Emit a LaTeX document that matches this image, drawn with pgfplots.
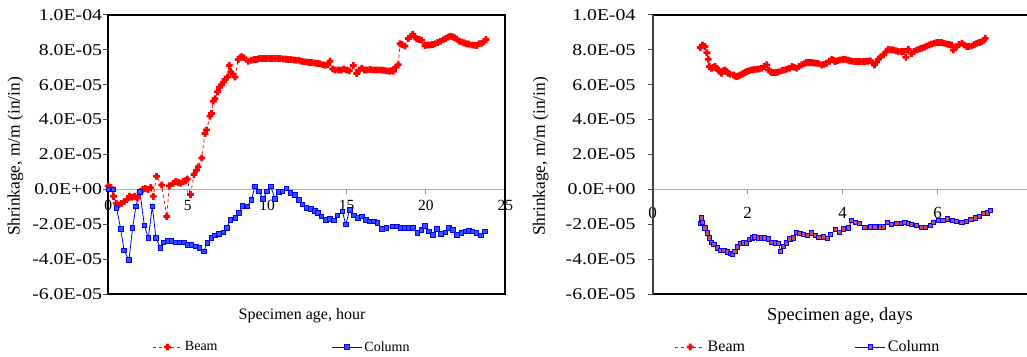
\documentclass[border=0pt]{standalone}
\usepackage{fontspec}
\setmainfont{Liberation Serif}
\usepackage{graphicx}
\usepackage{pgfplots}
\pgfplotsset{compat=1.18}
\newcommand\yl[1]{\scalebox{1.2}[1]{#1}}
\definecolor{sqfillR}{RGB}{190,80,110}
\definecolor{sqfillL}{RGB}{50,80,255}
\pgfdeclareplotmark{fatplus}{%
  \pgfpathrectangle{\pgfpoint{-\pgfplotmarksize}{-0.4\pgfplotmarksize}}{\pgfpoint{2\pgfplotmarksize}{0.8\pgfplotmarksize}}%
  \pgfpathrectangle{\pgfpoint{-0.4\pgfplotmarksize}{-\pgfplotmarksize}}{\pgfpoint{0.8\pgfplotmarksize}{2\pgfplotmarksize}}%
  \pgfusepathqfill}
\begin{document}
\begin{tikzpicture}
\pgfplotsset{
  shr/.style={
    scale only axis, anchor=south west, height=279pt,
    ymin=-6, ymax=10, ytick={-6,-4,...,10},
    yticklabels={\yl{-6.0E-05},\yl{-4.0E-05},\yl{-2.0E-05},\yl{0.0E+00},\yl{2.0E-05},\yl{4.0E-05},\yl{6.0E-05},\yl{8.0E-05},\yl{1.0E-04}},
    axis x line*=middle, axis y line*=left,
    hide obscured x ticks=false,
    clip=false,
    x axis line style={color=black!30, line width=1.3pt},
    y axis line style={draw=none},
    xtick align=outside, ytick align=outside,
    major tick length=5pt,
    xtick style={color=black!40, line width=1pt},
    ytick style={color=black!70, line width=1pt},
    yticklabel style={font=\fontsize{16.5}{18}\selectfont, inner sep=1pt},
    legend columns=2, legend cell align=left,
    legend image code/.code={\draw[mark repeat=2,mark phase=2,##1] plot coordinates {(0pt,0pt)(15pt,0pt)(30pt,0pt)};},
    beam/.style={red, dashed, line width=0.8pt, mark=fatplus, mark size=3.4pt, mark options={solid, fill=red}},
  }
}
% ---------- left: hours ----------
\begin{axis}[shr, at={(108.3pt,62pt)}, width=397pt,
  xmin=0, xmax=25, xtick={0,5,10,15,20,25}, xticklabels={0,5,10,15,20,25},
  xticklabel style={font=\fontsize{15.5}{17}\selectfont, inner sep=1pt, yshift=-5pt},
  xlabel={Specimen age, hour},
  xlabel style={font=\fontsize{16}{18}\selectfont, at={(axis description cs:0.488,-0.078)}, anchor=center},
  ylabel={Shrinkage, m/m (in/in)},
  ylabel style={font=\fontsize{17.4}{19}\selectfont, at={(axis description cs:-0.234,0.493)}, anchor=center},
  legend style={at={(axis description cs:0.11,-0.19)}, anchor=west, draw=none, fill=none, inner sep=0pt,
    font=\fontsize{14}{16}\selectfont, /tikz/every even column/.append style={column sep=112pt}},
]
\addplot[beam] coordinates {
(0.00,0.2)(0.17,0.1)(0.33,-0.4)(0.50,-0.8)(0.67,-0.9)(0.83,-0.8)(1.00,-0.7)(1.17,-0.6)(1.33,-0.4)
(1.50,-0.45)(1.67,-0.4)(1.83,-0.5)(2.00,-0.2)(2.17,0.0)(2.33,0.05)(2.50,0.0)(2.67,0.1)(2.83,-0.4)
(3.04,0.75)(3.36,0.25)(3.68,-1.55)(3.84,0.2)(4.09,0.35)(4.25,0.45)(4.41,0.4)(4.56,0.35)(4.72,0.45)
(4.88,0.5)(4.97,0.6)(5.18,-0.3)(5.40,0.85)(5.56,1.1)(5.67,1.3)(5.88,1.8)(6.09,3.2)(6.19,3.4)
(6.40,4.2)(6.50,4.35)(6.61,5.05)(6.72,5.2)(6.87,5.6)(7.00,5.85)(7.14,6.0)(7.25,6.15)(7.35,6.3)
(7.50,6.45)(7.62,7.1)(7.71,6.75)(7.85,6.6)(7.98,6.45)(8.19,7.45)(8.30,7.55)(8.40,7.6)(8.55,7.55)
(8.82,7.35)(9.00,7.4)(9.17,7.45)(9.33,7.45)(9.50,7.5)(9.67,7.5)(9.83,7.5)(10.00,7.5)(10.17,7.5)
(10.33,7.5)(10.50,7.5)(10.67,7.5)(10.83,7.5)(11.00,7.48)(11.17,7.47)(11.33,7.45)(11.50,7.45)
(11.67,7.42)(11.83,7.4)(12.00,7.4)(12.17,7.35)(12.33,7.32)(12.50,7.3)(12.67,7.28)(12.83,7.28)
(13.00,7.25)(13.17,7.22)(13.33,7.2)(13.50,7.15)(13.67,7.12)(13.83,7.15)(13.96,7.35)(14.13,6.9)
(14.30,6.85)(14.50,6.85)(14.67,6.85)(14.83,6.9)(15.00,6.85)(15.17,6.8)(15.43,7.1)(15.64,6.65)
(15.80,6.85)(15.96,6.95)(16.13,6.85)(16.30,6.85)(16.50,6.88)(16.67,6.85)(16.83,6.85)(17.00,6.85)
(17.17,6.85)(17.33,6.83)(17.50,6.8)(17.67,6.78)(17.83,6.8)(17.95,6.78)(18.10,7.0)(18.26,7.15)
(18.37,8.35)(18.50,8.3)(18.68,8.22)(18.89,8.65)(19.05,8.75)(19.17,8.9)(19.30,8.75)(19.42,8.62)
(19.58,8.6)(19.73,8.55)(19.94,8.25)(20.10,8.28)(20.25,8.28)(20.42,8.3)(20.58,8.35)(20.75,8.42)
(20.92,8.5)(21.10,8.58)(21.25,8.65)(21.40,8.72)(21.52,8.78)(21.67,8.75)(21.80,8.7)(21.94,8.62)
(22.10,8.5)(22.25,8.45)(22.40,8.4)(22.55,8.35)(22.70,8.33)(22.88,8.28)(23.05,8.27)(23.20,8.25)
(23.35,8.35)(23.51,8.38)(23.65,8.45)(23.78,8.6)
};
\addlegendentry{Beam}
\addplot[blue, line width=0.8pt, mark=square*, mark size=2.3pt, mark options={draw=blue, fill=sqfillL}] coordinates {
(0,0)(0.31,0)(0.52,-1.07)(0.78,-2.27)(0.99,-3.49)(1.3,-4.06)(1.53,-2.21)(1.74,-0.97)(1.99,-0.15)
(2.27,-2.06)(2.52,-2.79)(2.77,-0.97)(3.0,-2.79)(3.29,-3.36)(3.46,-3.03)(3.73,-2.96)(3.98,-2.96)
(4.26,-3.03)(4.51,-3.03)(4.76,-3.03)(5.03,-3.17)(5.24,-3.17)(5.52,-3.26)(5.73,-3.36)(6.02,-3.55)
(6.23,-3.07)(6.5,-2.79)(6.71,-2.65)(6.98,-2.56)(7.24,-2.46)(7.45,-2.21)(7.7,-1.74)(8.01,-1.64)
(8.24,-1.35)(8.45,-0.94)(8.75,-0.97)(9.02,-0.59)(9.23,0.17)(9.48,-0.11)(9.75,-0.55)(10.0,-0.11)
(10.23,0.17)(10.49,-0.53)(10.74,-0.15)(10.97,-0.11)(11.22,0.06)(11.47,-0.21)(11.74,-0.31)(12.0,-0.59)
(12.23,-0.86)(12.48,-1.07)(12.75,-1.13)(13.0,-1.24)(13.21,-1.35)(13.42,-1.55)(13.7,-1.74)(13.95,-1.68)
(14.22,-1.77)(14.43,-1.49)(14.74,-1.26)(14.95,-2.02)(15.2,-1.16)(15.48,-1.49)(15.73,-1.64)(15.98,-1.55)
(16.21,-1.74)(16.46,-1.83)(16.72,-1.83)(16.95,-1.93)(17.24,-2.27)(17.51,-2.21)(17.93,-2.12)(18.18,-2.12)
(18.41,-2.21)(18.67,-2.21)(18.94,-2.21)(19.19,-2.21)(19.46,-2.5)(19.71,-2.31)(19.92,-2.08)(20.18,-2.4)
(20.45,-2.6)(20.7,-2.27)(20.93,-2.54)(21.22,-2.46)(21.46,-2.21)(21.71,-2.31)(21.96,-2.6)(22.23,-2.5)
(22.48,-2.4)(22.69,-2.37)(22.92,-2.4)(23.17,-2.5)(23.45,-2.65)(23.7,-2.4)
};
\addlegendentry{Column}
\draw[line width=1.7pt] (rel axis cs:0,0) rectangle (rel axis cs:1,1);
\end{axis}
% ---------- right: days ----------
\begin{axis}[shr, at={(652.7pt,62pt)}, width=380pt,
  xmin=0, xmax=8, xtick={0,2,4,6}, xticklabels={0,2,4,6},
  xticklabel style={font=\fontsize{17}{19}\selectfont, inner sep=1pt, yshift=-12pt},
  yticklabel style={xshift=-11pt},
  xlabel={Specimen age, days},
  xlabel style={font=\fontsize{18.4}{20}\selectfont, at={(axis description cs:0.493,-0.081)}, anchor=center},
  ylabel={Shrinkage, m/m (in/in)},
  ylabel style={font=\fontsize{17.4}{19}\selectfont, at={(axis description cs:-0.295,0.493)}, anchor=center},
  legend style={at={(axis description cs:0.058,-0.19)}, anchor=west, draw=none, fill=none, inner sep=0pt,
    font=\fontsize{16}{18}\selectfont, /tikz/every even column/.append style={column sep=108pt}},
]
\addplot[beam] coordinates {
(1.0,8.13)(1.05,8.28)(1.1,8.19)(1.14,7.84)(1.17,7.46)(1.19,7.04)(1.24,6.95)(1.28,7.0)(1.31,7.04)(1.35,6.95)
(1.38,6.85)(1.42,6.75)(1.45,6.66)(1.49,6.8)(1.52,6.85)(1.56,6.75)(1.59,6.66)(1.63,6.6)(1.7,6.56)(1.74,6.5)
(1.77,6.47)(1.81,6.5)(1.84,6.56)(1.88,6.6)(1.91,6.66)(1.95,6.7)(1.98,6.76)(2.03,6.8)(2.08,6.85)(2.14,6.87)
(2.19,6.89)(2.24,6.9)(2.29,6.95)(2.35,7.05)(2.4,7.14)(2.44,6.85)(2.48,6.75)(2.51,6.7)(2.56,6.7)(2.61,6.7)
(2.66,6.75)(2.72,6.81)(2.77,6.85)(2.82,6.89)(2.88,6.95)(2.93,7.04)(2.98,7.0)(3.03,6.95)(3.08,7.05)(3.14,7.14)
(3.19,7.2)(3.24,7.27)(3.3,7.27)(3.35,7.27)(3.4,7.25)(3.45,7.23)(3.5,7.2)(3.56,7.14)(3.61,7.18)(3.66,7.23)
(3.72,7.35)(3.77,7.46)(3.81,7.4)(3.84,7.33)(3.89,7.38)(3.94,7.42)(4.0,7.45)(4.05,7.46)(4.1,7.42)(4.15,7.38)
(4.2,7.35)(4.26,7.33)(4.31,7.33)(4.36,7.33)(4.42,7.33)(4.47,7.33)(4.52,7.35)(4.58,7.38)(4.63,7.25)(4.67,7.14)
(4.71,7.3)(4.75,7.46)(4.8,7.6)(4.86,7.71)(4.91,7.88)(4.96,8.03)(5.02,8.0)(5.07,7.99)(5.12,7.95)(5.17,7.9)
(5.23,7.9)(5.28,7.9)(5.33,7.58)(5.38,8.03)(5.45,7.8)(5.5,7.9)(5.56,7.99)(5.61,8.05)(5.66,8.09)(5.72,8.15)
(5.77,8.22)(5.82,8.28)(5.87,8.34)(5.93,8.38)(5.98,8.42)(6.03,8.42)(6.08,8.42)(6.14,8.38)(6.19,8.34)(6.24,8.3)
(6.29,8.28)(6.33,7.99)(6.4,8.19)(6.45,8.3)(6.51,8.38)(6.56,8.28)(6.61,8.19)(6.66,8.2)(6.72,8.22)(6.77,8.3)
(6.82,8.38)(6.88,8.42)(6.93,8.47)(6.97,8.55)(7.0,8.66)
};
\addlegendentry{Beam}
\addplot[blue, line width=0.8pt, mark=square*, mark size=2.1pt, mark options={draw=blue, line width=0.9pt, fill=sqfillR}] coordinates {
(1.0,-1.97)(1.03,-1.64)(1.05,-1.89)(1.1,-2.21)(1.15,-2.5)(1.19,-2.79)(1.24,-3.03)(1.29,-3.17)(1.36,-3.36)
(1.43,-3.49)(1.5,-3.49)(1.57,-3.59)(1.63,-3.68)(1.68,-3.74)(1.73,-3.55)(1.78,-3.3)(1.84,-3.11)(1.91,-3.07)
(1.98,-3.07)(2.04,-2.88)(2.1,-2.79)(2.15,-2.73)(2.22,-2.79)(2.29,-2.79)(2.36,-2.79)(2.44,-2.84)(2.51,-3.03)
(2.58,-3.07)(2.65,-3.11)(2.69,-3.55)(2.75,-3.26)(2.82,-3.07)(2.89,-2.84)(2.96,-2.79)(3.03,-2.46)(3.1,-2.54)
(3.17,-2.6)(3.26,-2.65)(3.35,-2.5)(3.42,-2.65)(3.5,-2.77)(3.59,-2.73)(3.68,-2.81)(3.75,-2.6)(3.84,-2.31)
(3.93,-2.46)(4.01,-2.27)(4.12,-2.21)(4.19,-1.77)(4.26,-1.89)(4.36,-1.97)(4.47,-2.18)(4.58,-2.16)(4.68,-2.16)
(4.79,-2.16)(4.86,-2.16)(4.94,-1.89)(5.03,-2.02)(5.14,-1.97)(5.24,-1.97)(5.31,-1.89)(5.38,-1.97)(5.45,-2.02)
(5.56,-2.06)(5.66,-2.18)(5.75,-2.18)(5.84,-2.06)(5.91,-1.89)(6.01,-1.77)(6.11,-1.77)(6.21,-1.7)(6.31,-1.77)
(6.4,-1.83)(6.51,-1.89)(6.6,-1.83)(6.7,-1.74)(6.79,-1.64)(6.88,-1.55)(6.97,-1.39)(7.04,-1.35)(7.11,-1.2)
};
\addlegendentry{Column}
\draw[line width=1.7pt] (rel axis cs:0,0) -- (rel axis cs:1.1,0) (rel axis cs:0,1) -- (rel axis cs:1.1,1);
\draw[line width=1.9pt, black!75] (rel axis cs:0,0) -- (rel axis cs:0,1);
\end{axis}
\pgfresetboundingbox
\path (0pt,0pt) rectangle (1027pt,356pt);
\end{tikzpicture}
\end{document}
